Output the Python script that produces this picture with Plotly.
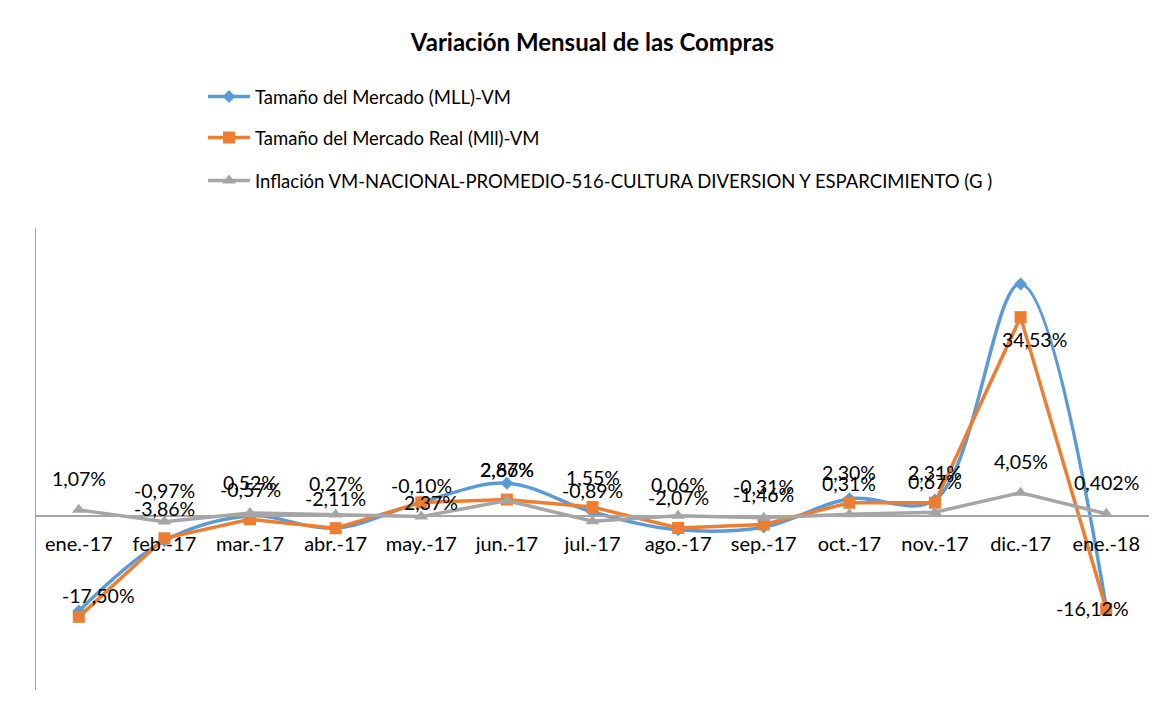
import plotly.graph_objects as go

categories = ["ene.-17", "feb.-17", "mar.-17", "abr.-17", "may.-17", "jun.-17", "jul.-17",
              "ago.-17", "sep.-17", "oct.-17", "nov.-17", "dic.-17", "ene.-18"]
mercado = [-16.5, -4.3, 0.0, -2.1, 2.4, 5.7, 0.7, -2.4, -1.9, 3.0, 2.8, 40.3, -15.8]
mercado_real = [-17.50, -3.86, -0.57, -2.11, 2.37, 2.86, 1.55, -2.07, -1.46, 2.30, 2.31, 34.53, -16.12]
inflacion = [1.07, -0.97, 0.52, 0.27, -0.10, 2.67, -0.89, 0.06, -0.31, 0.31, 0.67, 4.05, 0.402]

names = ["Tamaño del Mercado (MLL)-VM",
         "Tamaño del Mercado Real (Mll)-VM",
         "Inflación VM-NACIONAL-PROMEDIO-516-CULTURA DIVERSION Y ESPARCIMIENTO (G )"]
colors = ["#5B9BD5", "#ED7D31", "#A5A5A5"]

FONT = "Lato"
LBL = 19.5


def fmt(v):
    s = f"{v:.3f}".rstrip("0")
    if len(s.split(".")[1]) < 2:
        s = f"{v:.2f}"
    return s.replace(".", ",") + "%"


fig = go.Figure()
fig.add_trace(go.Scatter(x=categories, y=mercado, name=names[0], mode="lines+markers",
                         line=dict(color=colors[0], width=3.5, shape="spline", smoothing=1.0),
                         marker=dict(symbol="diamond", size=10, color=colors[0]),
                         legend="legend", showlegend=True, cliponaxis=False))
fig.add_trace(go.Scatter(x=categories, y=mercado_real, name=names[1], mode="lines+markers",
                         line=dict(color=colors[1], width=3.5),
                         marker=dict(symbol="square", size=12, color=colors[1]),
                         legend="legend2", showlegend=True, cliponaxis=False))
fig.add_trace(go.Scatter(x=categories, y=inflacion, name=names[2], mode="lines+markers",
                         line=dict(color=colors[2], width=3.5),
                         marker=dict(symbol="triangle-up", size=12, color=colors[2]),
                         legend="legend3", showlegend=True, cliponaxis=False))

# data labels (orange series and gray series)
real_shift = {0: (20, 21), 4: (10, 0), 11: (14, -22), 12: (-14, 0)}
for i, (c, v) in enumerate(zip(categories, mercado_real)):
    xs, ys = real_shift.get(i, (0, 30))
    fig.add_annotation(x=c, y=v, text=fmt(v), showarrow=False, xshift=xs, yshift=ys,
                       xanchor="center", yanchor="middle",
                       font=dict(family=FONT, size=LBL, color="#000000"))
for i, (c, v) in enumerate(zip(categories, inflacion)):
    fig.add_annotation(x=c, y=v, text=fmt(v), showarrow=False, xshift=0, yshift=31,
                       xanchor="center", yanchor="middle",
                       font=dict(family=FONT, size=LBL, color="#000000"))

ymin, ymax = -30.2, 50.0
zero_pos = (0 - ymin) / (ymax - ymin)

# page body has an 8px margin: compensate so the plot lands where the reference has it
OFF = 8
L, R, T, B = 36 - OFF, 1170 - 1149 + OFF, 228 - OFF, 717 - 690 + OFF
PW, PH = 1170 - L - R, 717 - T - B


def lx(px):
    return (px - OFF - L) / PW


def ly(py):
    return (717 - B - (py - OFF)) / PH


leg_common = dict(xanchor="left", yanchor="middle", itemwidth=42,
                  font=dict(family=FONT, size=18.5), bgcolor="rgba(0,0,0,0)")

fig.update_layout(
    width=1170, height=717,
    showlegend=True,
    margin=dict(l=L, r=R, t=T, b=B),
    paper_bgcolor="white", plot_bgcolor="white",
    font=dict(family=FONT, size=17, color="#000000"),
    title=dict(text="<b>Variación Mensual de las Compras</b>", x=0.5, xref="paper",
               y=1 - (43 - OFF) / 717, yref="container", xanchor="center", yanchor="middle",
               font=dict(family=FONT, size=24, color="#000000")),
    xaxis=dict(type="category", range=[-0.5, 12.5], anchor="free", position=zero_pos,
               showline=True, linecolor="#A6A6A6", linewidth=1.5, ticks="",
               showgrid=False, zeroline=False, ticklabelstandoff=10,
               tickfont=dict(family=FONT, size=20, color="#000000")),
    yaxis=dict(range=[ymin, ymax], showline=True, linecolor="#A6A6A6", linewidth=1,
               showticklabels=False, ticks="", showgrid=False, zeroline=False),
    legend=dict(x=lx(203), y=ly(97), **leg_common),
    legend2=dict(x=lx(203), y=ly(138), **leg_common),
    legend3=dict(x=lx(203), y=ly(181), **leg_common),
)

fig.write_html("out.html")
